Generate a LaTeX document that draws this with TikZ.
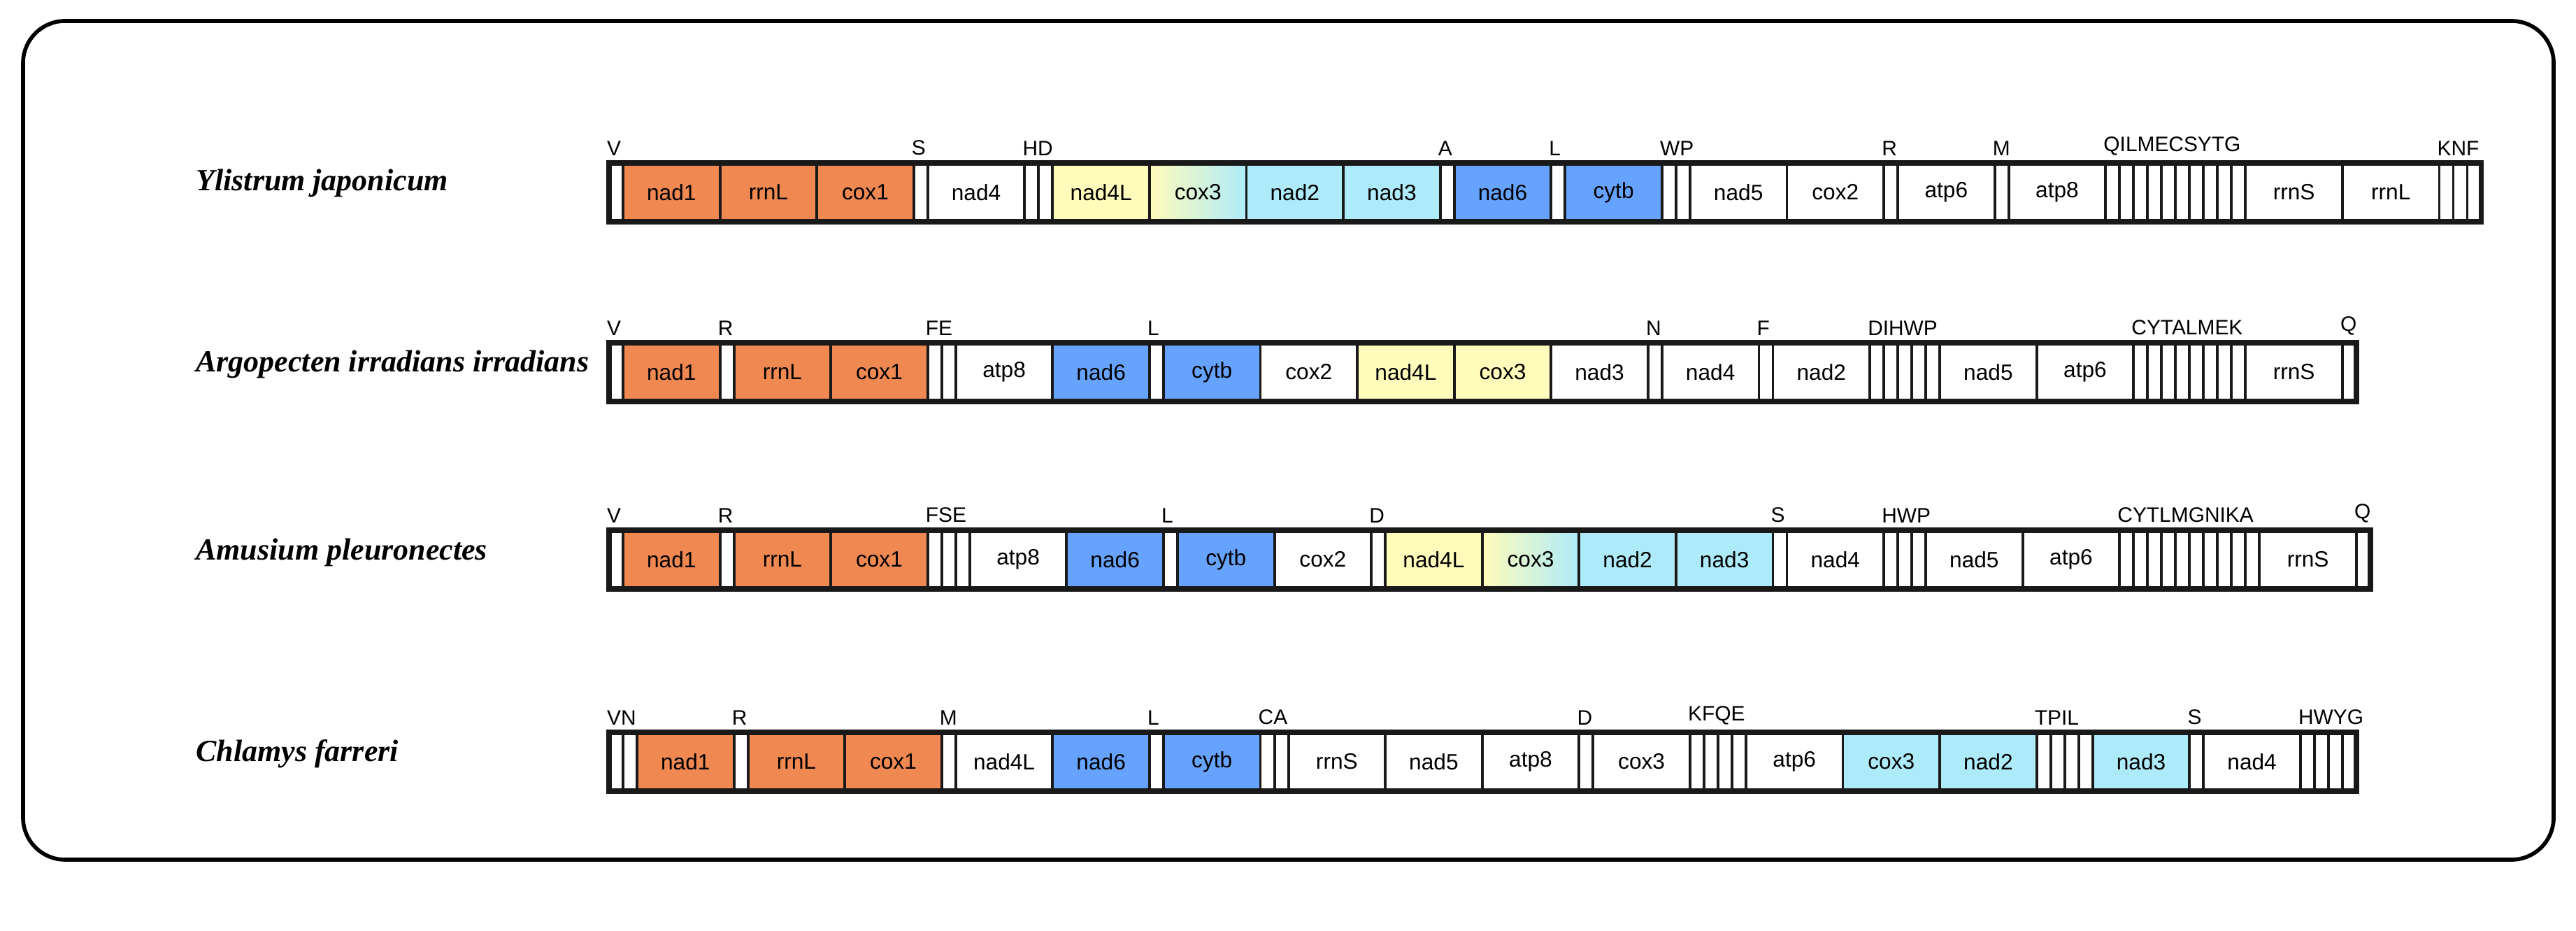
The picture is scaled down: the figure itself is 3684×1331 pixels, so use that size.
\documentclass[tikz,border=0pt]{standalone}
\usepackage{fontspec}
\setmainfont{Liberation Sans}
\newfontfamily\spfont{Liberation Serif}
\usetikzlibrary{positioning}

\definecolor{or}{RGB}{240,136,82}
\definecolor{yl}{RGB}{255,251,186}
\definecolor{cy}{RGB}{174,235,250}
\definecolor{bl}{RGB}{102,163,255}

\tikzset{
  cell/.style={draw=black!90, line width=1.1pt, minimum height=0.84cm, inner sep=0pt, outer sep=0pt},
  gene/.style={cell, minimum width=1.385cm, font=\fontsize{9}{10}\selectfont, node contents={#1}},
  grad/.style={gene=#1, left color=yl, right color=cy},
  trna/.style={cell, minimum width=0.2cm, node contents={},
    label={[anchor=south west, inner sep=0pt, xshift=-1pt, yshift=0.1cm, font=\fontsize{8.5}{10}\selectfont]north west:#1}},
  sp/.style={anchor=west, font=\spfont\bfseries\itshape\fontsize{12.5}{14}\selectfont},
  start/.style={inner sep=0pt, outer sep=0pt, minimum size=0pt}
}

% one genome: name, x, y, list of kind/text/colour
\newcommand\genome[4]{%
  \node[start] (#1-0) at (#2,#3) {};
  \foreach \k/\txt/\col [count=\i, remember=\i as \j (initially 0)] in {#4}{
    \node (#1-\i) [\k=\txt, fill=\col, right=0pt of #1-\j];
    \xdef\lastcell{\i}
  }
  \draw[line width=2.2pt, draw=black!90] (#1-1.north west) rectangle (#1-\lastcell.south east);
}

\begin{document}
\begin{tikzpicture}[x=0.01cm, y=-0.01cm]
  \useasboundingbox (0,0) rectangle (3684,1331);
  \draw[line width=1.6pt, rounded corners=0.6cm] (33,30) rectangle (3652,1229);

  \node[sp] (sp1) at (268,262) {Ylistrum japonicum};
  \node[sp] (sp2) at (268,521) {Argopecten irradians irradians};
  \node[sp] (sp3) at (268,790) {Amusium pleuronectes};
  \node[sp] (sp4) at (268,1078) {Chlamys farreri};

  \genome{r1}{871}{275}{trna/V/white, gene/nad1/or, gene/rrnL/or, gene/cox1/or, trna/S/white,
    gene/nad4/white, trna/HD/white, trna//white, gene/nad4L/yl, grad/cox3/yl, gene/nad2/cy,
    gene/nad3/cy, trna/A/white, gene/nad6/bl, trna/L/white, gene/cytb/bl, trna/WP/white,
    trna//white, gene/nad5/white, gene/cox2/white, trna/R/white, gene/atp6/white, trna/M/white,
    gene/atp8/white, trna/QILMECSYTG/white, trna//white, trna//white, trna//white, trna//white,
    trna//white, trna//white, trna//white, trna//white, trna//white, gene/rrnS/white,
    gene/rrnL/white, trna/KNF/white, trna//white, trna//white}

  \genome{r2}{871}{532}{trna/V/white, gene/nad1/or, trna/R/white, gene/rrnL/or, gene/cox1/or,
    trna/FE/white, trna//white, gene/atp8/white, gene/nad6/bl, trna/L/white, gene/cytb/bl,
    gene/cox2/white, gene/nad4L/yl, gene/cox3/yl, gene/nad3/white, trna/N/white,
    gene/nad4/white, trna/F/white, gene/nad2/white, trna/DIHWP/white, trna//white, trna//white,
    trna//white, trna//white, gene/nad5/white, gene/atp6/white, trna/CYTALMEK/white,
    trna//white, trna//white, trna//white, trna//white, trna//white, trna//white, trna//white,
    gene/rrnS/white, trna/Q/white}

  \genome{r3}{871}{800}{trna/V/white, gene/nad1/or, trna/R/white, gene/rrnL/or, gene/cox1/or,
    trna/FSE/white, trna//white, trna//white, gene/atp8/white, gene/nad6/bl, trna/L/white,
    gene/cytb/bl, gene/cox2/white, trna/D/white, gene/nad4L/yl, grad/cox3/yl, gene/nad2/cy,
    gene/nad3/cy, trna/S/white, gene/nad4/white, trna/HWP/white, trna//white, trna//white,
    gene/nad5/white, gene/atp6/white, trna/CYTLMGNIKA/white, trna//white, trna//white,
    trna//white, trna//white, trna//white, trna//white, trna//white, trna//white, trna//white,
    gene/rrnS/white, trna/Q/white}

  \genome{r4}{871}{1089}{trna/VN/white, trna//white, gene/nad1/or, trna/R/white, gene/rrnL/or,
    gene/cox1/or, trna/M/white, gene/nad4L/white, gene/nad6/bl, trna/L/white, gene/cytb/bl,
    trna/CA/white, trna//white, gene/rrnS/white, gene/nad5/white, gene/atp8/white,
    trna/D/white, gene/cox3/white, trna/KFQE/white, trna//white, trna//white, trna//white,
    gene/atp6/white, gene/cox3/cy, gene/nad2/cy, trna/TPIL/white, trna//white, trna//white,
    trna//white, gene/nad3/cy, trna/S/white, gene/nad4/white, trna/HWYG/white, trna//white,
    trna//white, trna//white}
\end{tikzpicture}
\end{document}
